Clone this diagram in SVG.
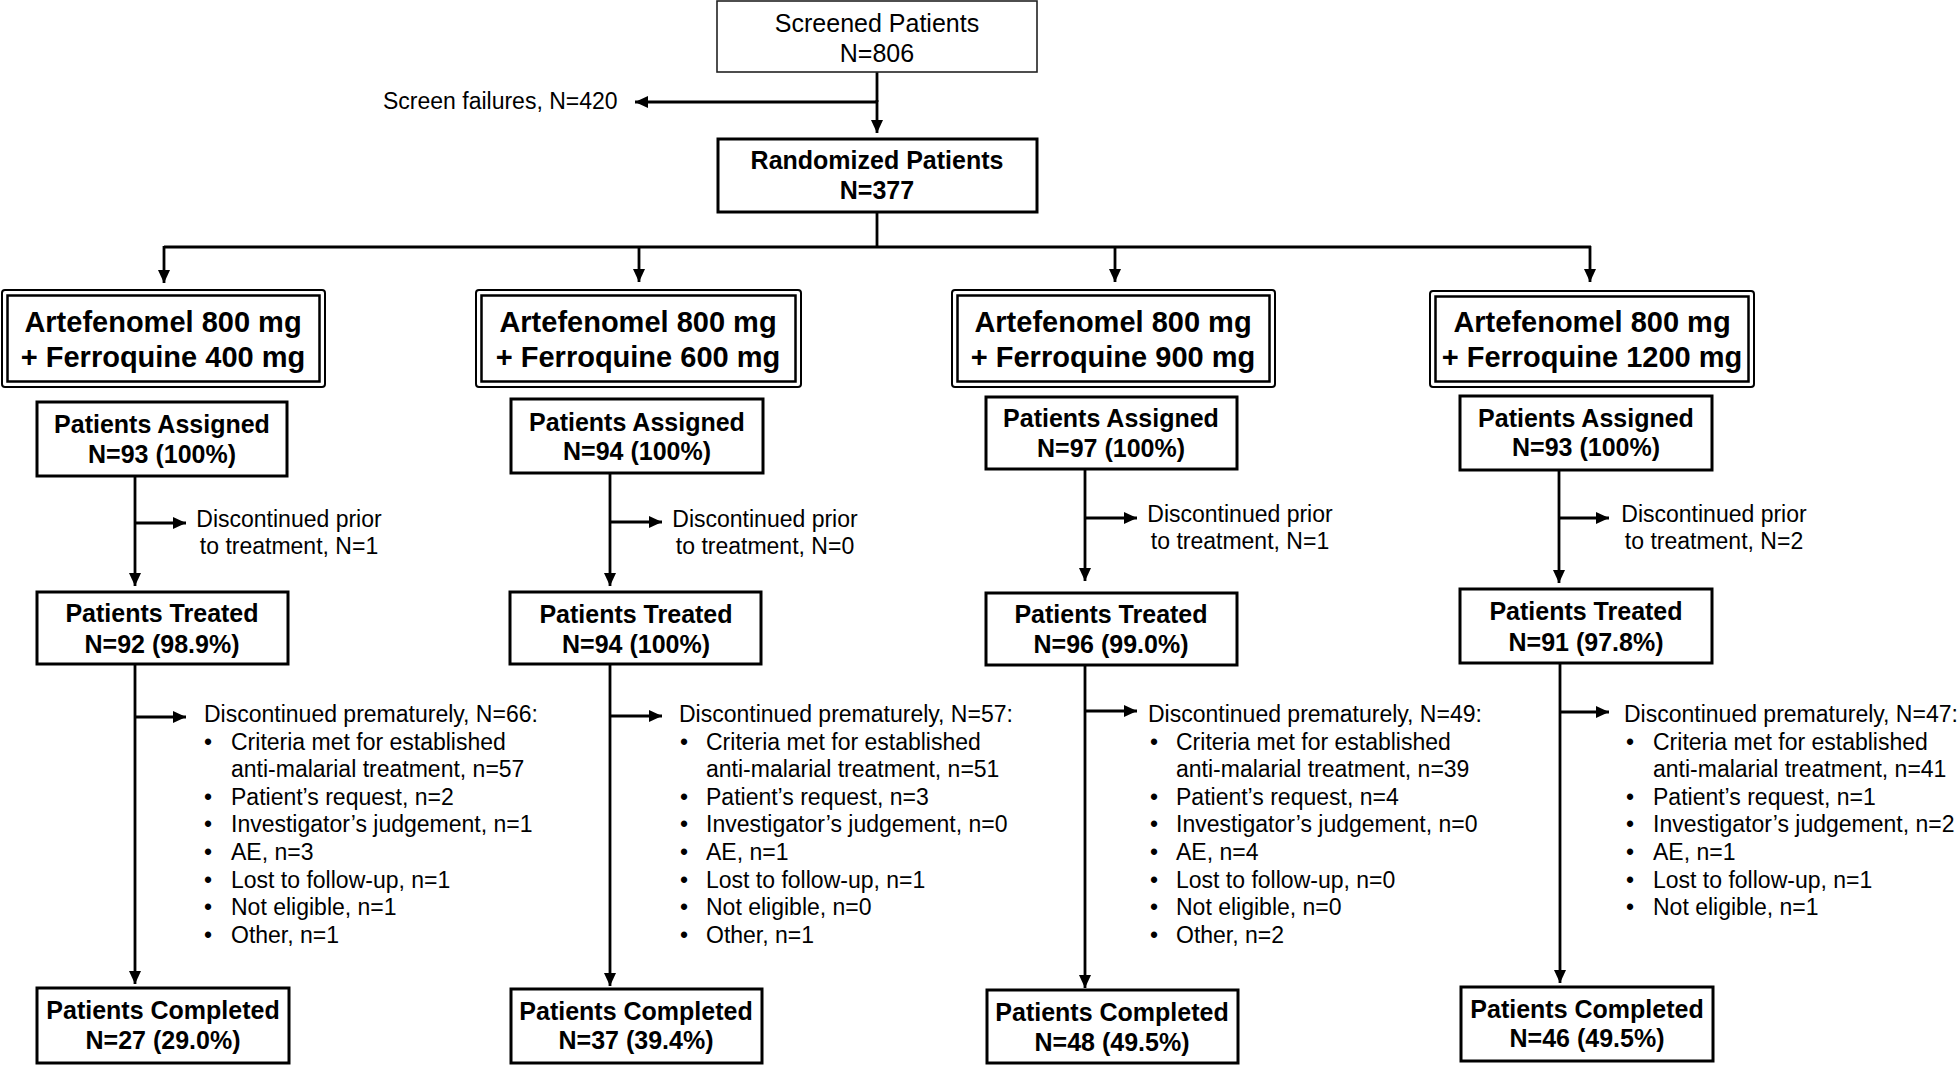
<svg xmlns="http://www.w3.org/2000/svg" width="1958" height="1065" viewBox="0 0 1958 1065">
<style>
text{font-family:"Liberation Sans",Arial,sans-serif;fill:#000}
.b{font-weight:bold;font-size:25px;text-anchor:middle}
.arm{font-weight:bold;font-size:29px;text-anchor:middle}
.r{font-size:23px}
.s{font-size:25px;text-anchor:middle}
.c{text-anchor:middle}
.box{fill:#fff;stroke:#000;stroke-width:3}
.thin{fill:#fff;stroke:#222;stroke-width:1.6}
.outer{fill:#fff;stroke:#000;stroke-width:2}
.inner{fill:none;stroke:#000;stroke-width:2.5}
.ln{fill:none;stroke:#000;stroke-width:2.8}
.ar{fill:none;stroke:#000;stroke-width:2.8;marker-end:url(#ah)}
</style>
<defs>
<marker id="ah" markerUnits="userSpaceOnUse" markerWidth="13" markerHeight="12" refX="13" refY="6" orient="auto">
<path d="M0,0 L13,6 L0,12 z" fill="#000"/>
</marker>
</defs>
<rect width="1958" height="1065" fill="#fff"/>

<g id="connectors">
<line class="ln" x1="877" y1="72" x2="877" y2="102"/>
<line class="ar" x1="877" y1="102" x2="635" y2="102"/>
<line class="ar" x1="877" y1="100" x2="877" y2="133"/>
<line class="ln" x1="877" y1="212" x2="877" y2="247"/>
<line class="ln" x1="164" y1="247" x2="1591" y2="247"/>
<line class="ar" x1="164" y1="246" x2="164" y2="283"/>
<line class="ar" x1="639" y1="246" x2="639" y2="282"/>
<line class="ar" x1="1115" y1="246" x2="1115" y2="282"/>
<line class="ar" x1="1590" y1="246" x2="1590" y2="282"/>
<!-- col1 -->
<line class="ar" x1="135" y1="476" x2="135" y2="586"/>
<line class="ar" x1="135" y1="523" x2="186" y2="523"/>
<line class="ar" x1="135" y1="664" x2="135" y2="984"/>
<line class="ar" x1="135" y1="717" x2="186" y2="717"/>
<!-- col2 -->
<line class="ar" x1="610" y1="473" x2="610" y2="586"/>
<line class="ar" x1="610" y1="522" x2="662" y2="522"/>
<line class="ar" x1="610" y1="664" x2="610" y2="986"/>
<line class="ar" x1="610" y1="716" x2="662" y2="716"/>
<!-- col3 -->
<line class="ar" x1="1085" y1="469" x2="1085" y2="581"/>
<line class="ar" x1="1085" y1="518" x2="1137" y2="518"/>
<line class="ar" x1="1085" y1="665" x2="1085" y2="988"/>
<line class="ar" x1="1085" y1="711" x2="1137" y2="711"/>
<!-- col4 -->
<line class="ar" x1="1559" y1="470" x2="1559" y2="583"/>
<line class="ar" x1="1559" y1="518" x2="1609" y2="518"/>
<line class="ar" x1="1560" y1="663" x2="1560" y2="983"/>
<line class="ar" x1="1560" y1="712" x2="1609" y2="712"/>
</g>

<g id="screened">
<rect class="thin" x="717" y="1" width="320" height="71"/>
<text class="s" x="877" y="32">Screened Patients</text>
<text class="s" x="877" y="62">N=806</text>
</g>
<g id="screen-failures">
<text class="r" x="383" y="109">Screen failures, N=420</text>
</g>
<g id="randomized">
<rect class="box" x="718" y="139" width="319" height="73"/>
<text class="b" x="877" y="169">Randomized Patients</text>
<text class="b" x="877" y="199">N=377</text>
</g>

<!-- Column 1 -->
<g id="arm1">
<rect class="outer" x="2" y="290" width="323" height="97" rx="3"/>
<rect class="inner" x="7.5" y="295.5" width="312" height="86"/>
<text class="arm" x="163" y="332">Artefenomel 800 mg</text>
<text class="arm" x="163" y="367">+ Ferroquine 400 mg</text>
</g>
<g id="assigned1">
<rect class="box" x="37" y="402" width="250" height="74"/>
<text class="b" x="162" y="433">Patients Assigned</text>
<text class="b" x="162" y="463">N=93 (100%)</text>
</g>
<g id="prior1">
<text class="r c" x="289" y="527">Discontinued prior</text>
<text class="r c" x="289" y="554">to treatment, N=1</text>
</g>
<g id="treated1">
<rect class="box" x="37" y="592" width="251" height="72"/>
<text class="b" x="162" y="622">Patients Treated</text>
<text class="b" x="162" y="653">N=92 (98.9%)</text>
</g>
<g id="disc1" class="r">
<text x="204" y="722">Discontinued prematurely, N=66:</text>
<text x="204" y="750">•</text><text x="231" y="750">Criteria met for established</text>
<text x="231" y="777">anti-malarial treatment, n=57</text>
<text x="204" y="805">•</text><text x="231" y="805">Patient’s request, n=2</text>
<text x="204" y="832">•</text><text x="231" y="832">Investigator’s judgement, n=1</text>
<text x="204" y="860">•</text><text x="231" y="860">AE, n=3</text>
<text x="204" y="888">•</text><text x="231" y="888">Lost to follow-up, n=1</text>
<text x="204" y="915">•</text><text x="231" y="915">Not eligible, n=1</text>
<text x="204" y="943">•</text><text x="231" y="943">Other, n=1</text>
</g>
<g id="completed1">
<rect class="box" x="37" y="988" width="252" height="75"/>
<text class="b" x="163" y="1019">Patients Completed</text>
<text class="b" x="163" y="1049">N=27 (29.0%)</text>
</g>

<!-- Column 2 -->
<g id="arm2">
<rect class="outer" x="476" y="290" width="325" height="97" rx="3"/>
<rect class="inner" x="481.5" y="295.5" width="314" height="86"/>
<text class="arm" x="638" y="332">Artefenomel 800 mg</text>
<text class="arm" x="638" y="367">+ Ferroquine 600 mg</text>
</g>
<g id="assigned2">
<rect class="box" x="511" y="399" width="252" height="74"/>
<text class="b" x="637" y="431">Patients Assigned</text>
<text class="b" x="637" y="460">N=94 (100%)</text>
</g>
<g id="prior2">
<text class="r c" x="765" y="527">Discontinued prior</text>
<text class="r c" x="765" y="554">to treatment, N=0</text>
</g>
<g id="treated2">
<rect class="box" x="510" y="592" width="251" height="72"/>
<text class="b" x="636" y="623">Patients Treated</text>
<text class="b" x="636" y="653">N=94 (100%)</text>
</g>
<g id="disc2" class="r">
<text x="679" y="722">Discontinued prematurely, N=57:</text>
<text x="680" y="750">•</text><text x="706" y="750">Criteria met for established</text>
<text x="706" y="777">anti-malarial treatment, n=51</text>
<text x="680" y="805">•</text><text x="706" y="805">Patient’s request, n=3</text>
<text x="680" y="832">•</text><text x="706" y="832">Investigator’s judgement, n=0</text>
<text x="680" y="860">•</text><text x="706" y="860">AE, n=1</text>
<text x="680" y="888">•</text><text x="706" y="888">Lost to follow-up, n=1</text>
<text x="680" y="915">•</text><text x="706" y="915">Not eligible, n=0</text>
<text x="680" y="943">•</text><text x="706" y="943">Other, n=1</text>
</g>
<g id="completed2">
<rect class="box" x="511" y="989" width="251" height="74"/>
<text class="b" x="636" y="1020">Patients Completed</text>
<text class="b" x="636" y="1049">N=37 (39.4%)</text>
</g>

<!-- Column 3 -->
<g id="arm3">
<rect class="outer" x="952" y="290" width="323" height="97" rx="3"/>
<rect class="inner" x="957.5" y="295.5" width="312" height="86"/>
<text class="arm" x="1113" y="332">Artefenomel 800 mg</text>
<text class="arm" x="1113" y="367">+ Ferroquine 900 mg</text>
</g>
<g id="assigned3">
<rect class="box" x="986" y="397" width="251" height="72"/>
<text class="b" x="1111" y="427">Patients Assigned</text>
<text class="b" x="1111" y="457">N=97 (100%)</text>
</g>
<g id="prior3">
<text class="r c" x="1240" y="522">Discontinued prior</text>
<text class="r c" x="1240" y="549">to treatment, N=1</text>
</g>
<g id="treated3">
<rect class="box" x="986" y="593" width="251" height="72"/>
<text class="b" x="1111" y="623">Patients Treated</text>
<text class="b" x="1111" y="653">N=96 (99.0%)</text>
</g>
<g id="disc3" class="r">
<text x="1148" y="722">Discontinued prematurely, N=49:</text>
<text x="1150" y="750">•</text><text x="1176" y="750">Criteria met for established</text>
<text x="1176" y="777">anti-malarial treatment, n=39</text>
<text x="1150" y="805">•</text><text x="1176" y="805">Patient’s request, n=4</text>
<text x="1150" y="832">•</text><text x="1176" y="832">Investigator’s judgement, n=0</text>
<text x="1150" y="860">•</text><text x="1176" y="860">AE, n=4</text>
<text x="1150" y="888">•</text><text x="1176" y="888">Lost to follow-up, n=0</text>
<text x="1150" y="915">•</text><text x="1176" y="915">Not eligible, n=0</text>
<text x="1150" y="943">•</text><text x="1176" y="943">Other, n=2</text>
</g>
<g id="completed3">
<rect class="box" x="987" y="990" width="251" height="73"/>
<text class="b" x="1112" y="1021">Patients Completed</text>
<text class="b" x="1112" y="1051">N=48 (49.5%)</text>
</g>

<!-- Column 4 -->
<g id="arm4">
<rect class="outer" x="1430" y="291" width="324" height="96" rx="3"/>
<rect class="inner" x="1435.5" y="296.5" width="313" height="85"/>
<text class="arm" x="1592" y="332">Artefenomel 800 mg</text>
<text class="arm" x="1592" y="367">+ Ferroquine 1200 mg</text>
</g>
<g id="assigned4">
<rect class="box" x="1460" y="396" width="252" height="74"/>
<text class="b" x="1586" y="427">Patients Assigned</text>
<text class="b" x="1586" y="456">N=93 (100%)</text>
</g>
<g id="prior4">
<text class="r c" x="1714" y="522">Discontinued prior</text>
<text class="r c" x="1714" y="549">to treatment, N=2</text>
</g>
<g id="treated4">
<rect class="box" x="1460" y="589" width="252" height="74"/>
<text class="b" x="1586" y="620">Patients Treated</text>
<text class="b" x="1586" y="651">N=91 (97.8%)</text>
</g>
<g id="disc4" class="r">
<text x="1624" y="722">Discontinued prematurely, N=47:</text>
<text x="1626" y="750">•</text><text x="1653" y="750">Criteria met for established</text>
<text x="1653" y="777">anti-malarial treatment, n=41</text>
<text x="1626" y="805">•</text><text x="1653" y="805">Patient’s request, n=1</text>
<text x="1626" y="832">•</text><text x="1653" y="832">Investigator’s judgement, n=2</text>
<text x="1626" y="860">•</text><text x="1653" y="860">AE, n=1</text>
<text x="1626" y="888">•</text><text x="1653" y="888">Lost to follow-up, n=1</text>
<text x="1626" y="915">•</text><text x="1653" y="915">Not eligible, n=1</text>
</g>
<g id="completed4">
<rect class="box" x="1461" y="987" width="252" height="74"/>
<text class="b" x="1587" y="1018">Patients Completed</text>
<text class="b" x="1587" y="1047">N=46 (49.5%)</text>
</g>
</svg>
